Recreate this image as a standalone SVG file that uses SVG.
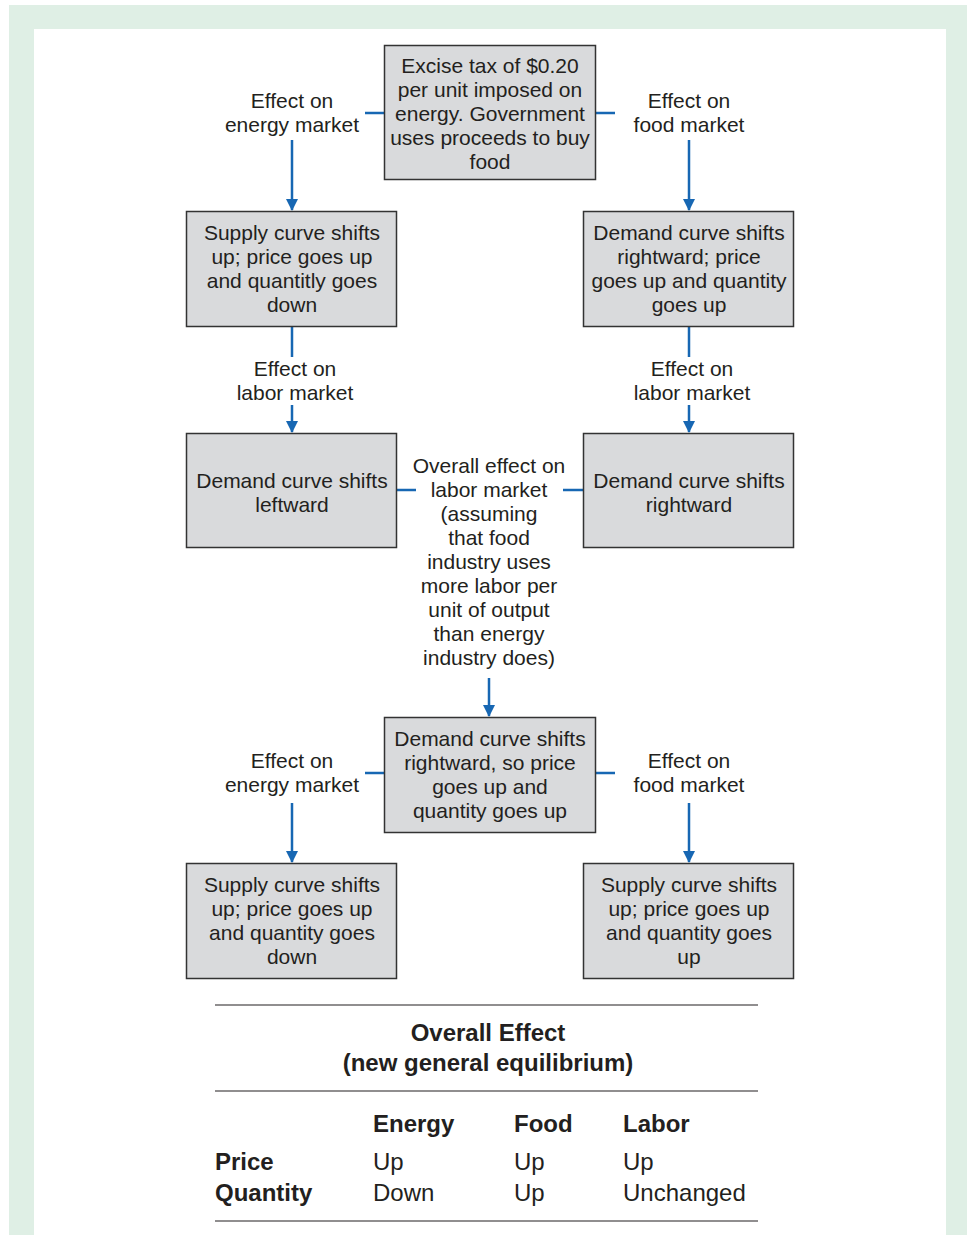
<svg xmlns="http://www.w3.org/2000/svg" width="967" height="1235" viewBox="0 0 967 1235">
<defs>
<marker id="ah" markerWidth="12" markerHeight="12" refX="11" refY="6" orient="auto" markerUnits="userSpaceOnUse" viewBox="0 0 12 12">
<path d="M0,0 L12,6 L0,12 Z" fill="#1767b3"/>
</marker>
<style>
.box{fill:#d9dadc;stroke:#333;stroke-width:1.5}
.t{font-family:"Liberation Sans",Arial,sans-serif;font-size:21px;fill:#231f20;text-anchor:middle}
.c{stroke:#1767b3;stroke-width:2.5;fill:none}
.tb{font-family:"Liberation Sans",Arial,sans-serif;font-size:24px;fill:#231f20}
.b{font-weight:bold}
.rule{stroke:#231f20;stroke-width:1.2}
</style>
</defs>
<rect x="0" y="0" width="967" height="1235" fill="#fff"/>
<rect x="9" y="5" width="958" height="1230" fill="#dfefe5"/>
<rect x="34" y="29" width="912" height="1206" fill="#fff"/>

<g id="connectors">
<line class="c" x1="384" y1="113" x2="365" y2="113"/>
<line class="c" x1="596" y1="113" x2="615" y2="113"/>
<line class="c" x1="292" y1="140" x2="292" y2="210" marker-end="url(#ah)"/>
<line class="c" x1="689" y1="140" x2="689" y2="210" marker-end="url(#ah)"/>
<line class="c" x1="292" y1="327" x2="292" y2="357"/>
<line class="c" x1="292" y1="405" x2="292" y2="432" marker-end="url(#ah)"/>
<line class="c" x1="689" y1="327" x2="689" y2="357"/>
<line class="c" x1="689" y1="405" x2="689" y2="432" marker-end="url(#ah)"/>
<line class="c" x1="397" y1="490" x2="416" y2="490"/>
<line class="c" x1="563" y1="490" x2="583" y2="490"/>
<line class="c" x1="489" y1="678" x2="489" y2="716" marker-end="url(#ah)"/>
<line class="c" x1="384" y1="773" x2="365" y2="773"/>
<line class="c" x1="596" y1="773" x2="615" y2="773"/>
<line class="c" x1="292" y1="803" x2="292" y2="862" marker-end="url(#ah)"/>
<line class="c" x1="689" y1="803" x2="689" y2="862" marker-end="url(#ah)"/>
</g>

<g id="labels">
<text class="t"><tspan x="292" y="108">Effect on</tspan><tspan x="292" y="132">energy market</tspan></text>
<text class="t"><tspan x="689" y="108">Effect on</tspan><tspan x="689" y="132">food market</tspan></text>
<text class="t"><tspan x="295" y="376">Effect on</tspan><tspan x="295" y="400">labor market</tspan></text>
<text class="t"><tspan x="692" y="376">Effect on</tspan><tspan x="692" y="400">labor market</tspan></text>
<text class="t"><tspan x="292" y="768">Effect on</tspan><tspan x="292" y="792">energy market</tspan></text>
<text class="t"><tspan x="689" y="768">Effect on</tspan><tspan x="689" y="792">food market</tspan></text>
</g>

<g id="n-tax">
<rect class="box" x="384.5" y="45.5" width="211" height="134"/>
<text class="t"><tspan x="490" y="73">Excise tax of $0.20</tspan><tspan x="490" y="97">per unit imposed on</tspan><tspan x="490" y="121">energy. Government</tspan><tspan x="490" y="145">uses proceeds to buy</tspan><tspan x="490" y="169">food</tspan></text>
</g>

<g id="n-energy-supply">
<rect class="box" x="186.5" y="211.5" width="210" height="115"/>
<text class="t"><tspan x="292" y="240">Supply curve shifts</tspan><tspan x="292" y="264">up; price goes up</tspan><tspan x="292" y="288">and quantitly goes</tspan><tspan x="292" y="312">down</tspan></text>
</g>

<g id="n-food-demand">
<rect class="box" x="583.5" y="211.5" width="210" height="115"/>
<text class="t"><tspan x="689" y="240">Demand curve shifts</tspan><tspan x="689" y="264">rightward; price</tspan><tspan x="689" y="288">goes up and quantity</tspan><tspan x="689" y="312">goes up</tspan></text>
</g>

<g id="n-labor-left">
<rect class="box" x="186.5" y="433.5" width="210" height="114"/>
<text class="t"><tspan x="292" y="488">Demand curve shifts</tspan><tspan x="292" y="512">leftward</tspan></text>
</g>

<g id="n-labor-right">
<rect class="box" x="583.5" y="433.5" width="210" height="114"/>
<text class="t"><tspan x="689" y="488">Demand curve shifts</tspan><tspan x="689" y="512">rightward</tspan></text>
</g>

<g id="n-overall-text">
<text class="t"><tspan x="489" y="473">Overall effect on</tspan><tspan x="489" y="497">labor market</tspan><tspan x="489" y="521">(assuming</tspan><tspan x="489" y="545">that food</tspan><tspan x="489" y="569">industry uses</tspan><tspan x="489" y="593">more labor per</tspan><tspan x="489" y="617">unit of output</tspan><tspan x="489" y="641">than energy</tspan><tspan x="489" y="665">industry does)</tspan></text>
</g>

<g id="n-labor-result">
<rect class="box" x="384.5" y="717.5" width="211" height="115"/>
<text class="t"><tspan x="490" y="746">Demand curve shifts</tspan><tspan x="490" y="770">rightward, so price</tspan><tspan x="490" y="794">goes up and</tspan><tspan x="490" y="818">quantity goes up</tspan></text>
</g>

<g id="n-energy-result">
<rect class="box" x="186.5" y="863.5" width="210" height="115"/>
<text class="t"><tspan x="292" y="892">Supply curve shifts</tspan><tspan x="292" y="916">up; price goes up</tspan><tspan x="292" y="940">and quantity goes</tspan><tspan x="292" y="964">down</tspan></text>
</g>

<g id="n-food-result">
<rect class="box" x="583.5" y="863.5" width="210" height="115"/>
<text class="t"><tspan x="689" y="892">Supply curve shifts</tspan><tspan x="689" y="916">up; price goes up</tspan><tspan x="689" y="940">and quantity goes</tspan><tspan x="689" y="964">up</tspan></text>
</g>

<g id="table">
<line class="rule" x1="215" y1="1005" x2="758" y2="1005"/>
<text class="tb b" text-anchor="middle"><tspan x="488" y="1041">Overall Effect</tspan><tspan x="488" y="1071">(new general equilibrium)</tspan></text>
<line class="rule" x1="215" y1="1091" x2="758" y2="1091"/>
<text class="tb b" x="373" y="1132">Energy</text>
<text class="tb b" x="514" y="1132">Food</text>
<text class="tb b" x="623" y="1132">Labor</text>
<text class="tb b" x="215" y="1170">Price</text>
<text class="tb" x="373" y="1170">Up</text>
<text class="tb" x="514" y="1170">Up</text>
<text class="tb" x="623" y="1170">Up</text>
<text class="tb b" x="215" y="1201">Quantity</text>
<text class="tb" x="373" y="1201">Down</text>
<text class="tb" x="514" y="1201">Up</text>
<text class="tb" x="623" y="1201">Unchanged</text>
<line class="rule" x1="215" y1="1221" x2="758" y2="1221"/>
</g>
</svg>
